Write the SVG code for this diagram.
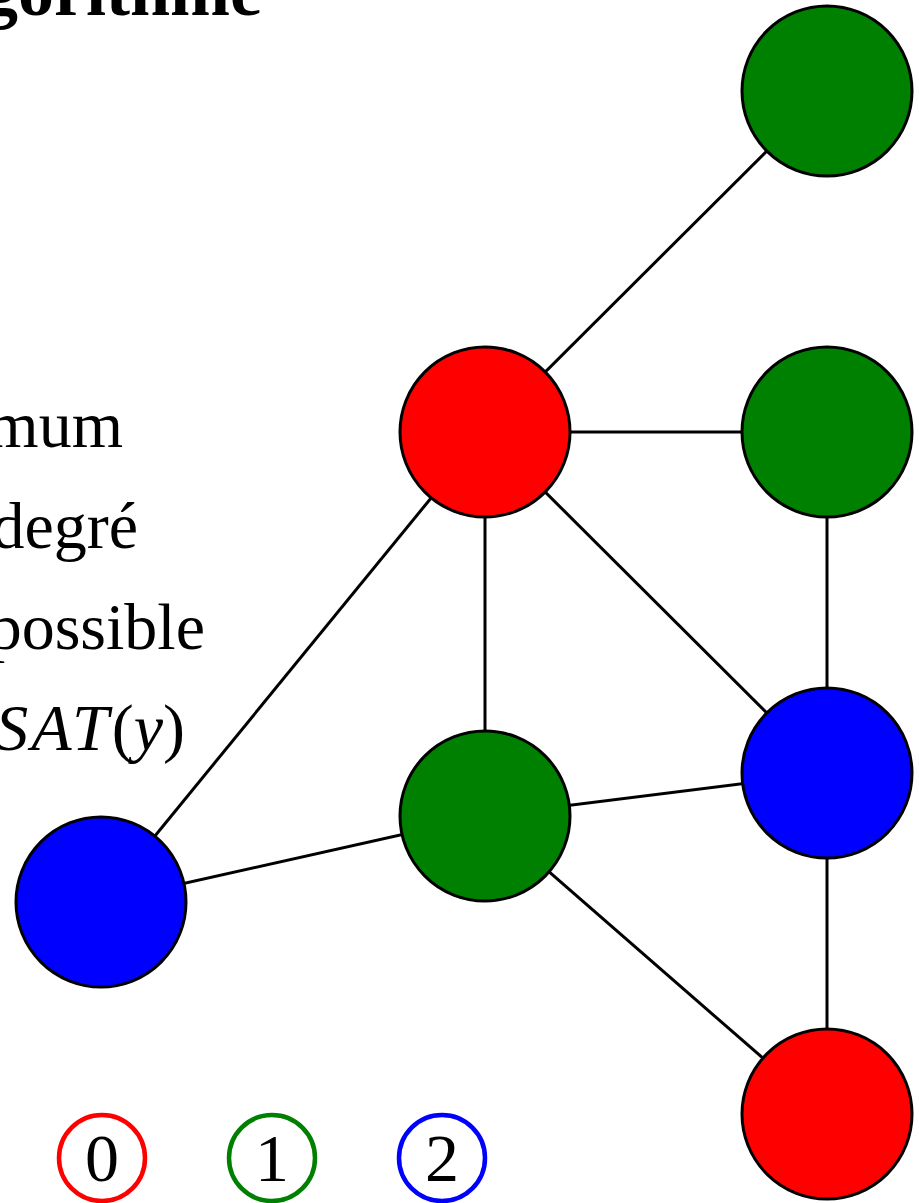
<svg xmlns="http://www.w3.org/2000/svg" width="919" height="1203" viewBox="0 0 919 1203">
  <style>
    .txt { font-family: "Liberation Serif", "DejaVu Serif", serif; fill: #000; }
    .it { font-style: italic; }
    .edge { stroke: #000; stroke-width: 3; fill: none; }
    .node { stroke: #000; stroke-width: 3; }
    .c0 { fill: #ff0000; }
    .c1 { fill: #008000; }
    .c2 { fill: #0000ff; }
    .key { fill: #fff; stroke-width: 4.5; }
  </style>
  <rect width="919" height="1203" fill="#fff"/>

  <!-- title, clipped at the top edge -->
  <text class="txt" x="262" y="15" font-size="72" font-weight="bold" text-anchor="end">gorithme</text>

  <!-- algorithm notes on the left -->
  <g id="notes" class="txt" font-size="66" text-anchor="end">
    <text x="123" y="447">mum</text>
    <text x="138" y="548">degré</text>
    <text x="205" y="649">possible</text>
    <text x="185" y="750"><tspan class="it" letter-spacing="3">SAT</tspan>(<tspan class="it">y</tspan>)</text>
  </g>

  <!-- edges -->
  <g id="edges" class="edge">
    <line x1="485" y1="432" x2="827" y2="91"/>
    <line x1="485" y1="432" x2="827" y2="432"/>
    <line x1="485" y1="432" x2="485" y2="816"/>
    <line x1="485" y1="432" x2="827" y2="773"/>
    <line x1="485" y1="432" x2="101" y2="902"/>
    <line x1="827" y1="432" x2="827" y2="773"/>
    <line x1="485" y1="816" x2="827" y2="773"/>
    <line x1="485" y1="816" x2="101" y2="902"/>
    <line x1="485" y1="816" x2="827" y2="1114"/>
    <line x1="827" y1="773" x2="827" y2="1114"/>
  </g>

  <!-- vertices -->
  <g id="n-top"><circle class="node c1" cx="827" cy="91" r="85"/></g>
  <g id="n-hub"><circle class="node c0" cx="485" cy="432" r="85"/></g>
  <g id="n-right"><circle class="node c1" cx="827" cy="432" r="85"/></g>
  <g id="n-mid-right"><circle class="node c2" cx="827" cy="773" r="85"/></g>
  <g id="n-center"><circle class="node c1" cx="485" cy="816" r="85"/></g>
  <g id="n-left"><circle class="node c2" cx="101" cy="902" r="85"/></g>
  <g id="n-bottom"><circle class="node c0" cx="827" cy="1114" r="85"/></g>

  <!-- colour key -->
  <g id="key-0">
    <circle class="key" cx="102" cy="1158" r="43" stroke="#ff0000"/>
    <text class="txt" x="102" y="1181" font-size="68" text-anchor="middle">0</text>
  </g>
  <g id="key-1">
    <circle class="key" cx="272" cy="1158" r="43" stroke="#008000"/>
    <text class="txt" x="272" y="1181" font-size="68" text-anchor="middle">1</text>
  </g>
  <g id="key-2">
    <circle class="key" cx="442" cy="1158" r="43" stroke="#0000ff"/>
    <text class="txt" x="442" y="1181" font-size="68" text-anchor="middle">2</text>
  </g>
</svg>
